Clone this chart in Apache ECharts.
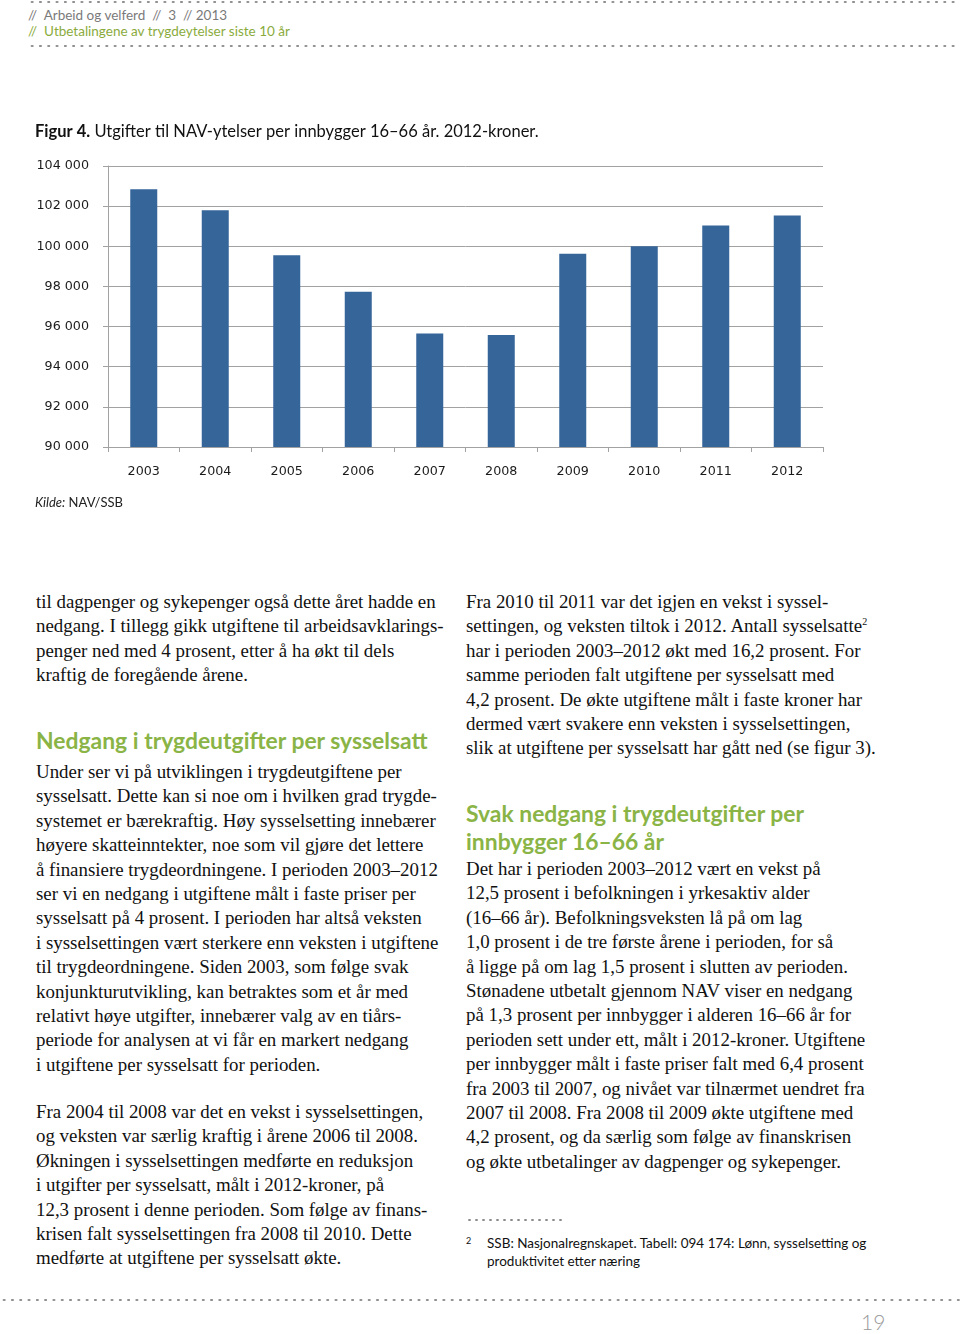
<!DOCTYPE html>
<html>
<head>
<meta charset="utf-8">
<script src="https://cdn.jsdelivr.net/npm/echarts@6/dist/echarts.min.js"></script>
<style>
  html, body { margin:0; padding:0; background:#fff; }
  body { width:960px; height:1334px; position:relative; overflow:hidden; }
  .abs { position:absolute; white-space:nowrap; }
  .dots { position:absolute; height:4px;
    background-image: radial-gradient(circle, #8e8e8e 1px, transparent 1.4px);
    background-size: 8.3px 4px; background-repeat: repeat-x; }
  .hdr { font-family:"Lato", "Noto Sans", sans-serif; font-size:13.5px; line-height:16px; }
  .body { font-family:"Liberation Serif", "Times New Roman", serif; font-size:18.9px; line-height:24.4px; color:#111; }
  .h2 { font-family:"Lato", "Noto Sans", sans-serif; font-weight:bold; font-size:22.9px; color:#8ab446; line-height:28px; }
  sup { font-size:10px; line-height:0; vertical-align: 7px; }
  .fn { font-family:"Lato", "Noto Sans", sans-serif; font-size:13.5px; line-height:18px; color:#111; }
</style>
</head>
<body>
<div class="dots" style="left:28px; top:0px; width:932px;"></div>
<div class="abs hdr" style="left:28px; top:7px; color:#7a7a7a;">//&nbsp; Arbeid og velferd &nbsp;//&nbsp; 3 &nbsp;// 2013</div>
<div class="abs hdr" style="left:28px; top:23px; color:#8aab3c;">//&nbsp; Utbetalingene av trygdeytelser siste 10 år</div>
<div class="dots" style="left:28px; top:44px; width:932px;"></div>

<div id="chart" style="position:absolute; left:0; top:100px; width:960px; height:430px;"></div>

<div class="abs body" style="left:36px; top:590px;">til dagpenger og sykepenger også dette året hadde en<br>nedgang. I tillegg gikk utgiftene til arbeidsavklarings-<br>penger ned med 4 prosent, etter å ha økt til dels<br>kraftig de foregående årene.</div>

<div class="abs h2" style="left:36px; top:726px;">Nedgang i trygdeutgifter per sysselsatt</div>

<div class="abs body" style="left:36px; top:760px;">Under ser vi på utviklingen i trygdeutgiftene per<br>sysselsatt. Dette kan si noe om i hvilken grad trygde-<br>systemet er bærekraftig. Høy sysselsetting innebærer<br>høyere skatteinntekter, noe som vil gjøre det lettere<br>å finansiere trygdeordningene. I perioden 2003–2012<br>ser vi en nedgang i utgiftene målt i faste priser per<br>sysselsatt på 4 prosent. I perioden har altså veksten<br>i sysselsettingen vært sterkere enn veksten i utgiftene<br>til trygdeordningene. Siden 2003, som følge svak<br>konjunkturutvikling, kan betraktes som et år med<br>relativt høye utgifter, innebærer valg av en tiårs-<br>periode for analysen at vi får en markert nedgang<br>i utgiftene per sysselsatt for perioden.</div>

<div class="abs body" style="left:36px; top:1100px;">Fra 2004 til 2008 var det en vekst i sysselsettingen,<br>og veksten var særlig kraftig i årene 2006 til 2008.<br>Økningen i sysselsettingen medførte en reduksjon<br>i utgifter per sysselsatt, målt i 2012-kroner, på<br>12,3 prosent i denne perioden. Som følge av finans-<br>krisen falt sysselsettingen fra 2008 til 2010. Dette<br>medførte at utgiftene per sysselsatt økte.</div>

<div class="abs body" style="left:466px; top:590px;">Fra 2010 til 2011 var det igjen en vekst i syssel-<br>settingen, og veksten tiltok i 2012. Antall sysselsatte<sup>2</sup><br>har i perioden 2003–2012 økt med 16,2 prosent. For<br>samme perioden falt utgiftene per sysselsatt med<br>4,2 prosent. De økte utgiftene målt i faste kroner har<br>dermed vært svakere enn veksten i sysselsettingen,<br>slik at utgiftene per sysselsatt har gått ned (se figur 3).</div>

<div class="abs h2" style="left:466px; top:799px;">Svak nedgang i trygdeutgifter per<br>innbygger 16–66 år</div>

<div class="abs body" style="left:466px; top:857px;">Det har i perioden 2003–2012 vært en vekst på<br>12,5 prosent i befolkningen i yrkesaktiv alder<br>(16–66 år). Befolkningsveksten lå på om lag<br>1,0 prosent i de tre første årene i perioden, for så<br>å ligge på om lag 1,5 prosent i slutten av perioden.<br>Stønadene utbetalt gjennom NAV viser en nedgang<br>på 1,3 prosent per innbygger i alderen 16–66 år for<br>perioden sett under ett, målt i 2012-kroner. Utgiftene<br>per innbygger målt i faste priser falt med 6,4 prosent<br>fra 2003 til 2007, og nivået var tilnærmet uendret fra<br>2007 til 2008. Fra 2008 til 2009 økte utgiftene med<br>4,2 prosent, og da særlig som følge av finanskrisen<br>og økte utbetalinger av dagpenger og sykepenger.</div>

<div class="dots" style="left:466px; top:1218px; width:100px; background-size:7px 4px; background-image: radial-gradient(circle, #8a8a8a 1px, transparent 1.4px);"></div>
<div class="abs fn" style="left:466px; top:1232px; font-size:9px;">2</div>
<div class="abs fn" style="left:487px; top:1234px;">SSB: Nasjonalregnskapet. Tabell: 094 174: Lønn, sysselsetting og<br>produktivitet etter næring</div>

<div class="dots" style="left:0px; top:1298px; width:960px;"></div>
<div class="abs" style="left:861px; top:1309px; font-family:'Lato','Noto Sans',sans-serif; font-size:21px; color:#9a9a9a; font-weight:300;">19</div>

<script>
const years = ['2003','2004','2005','2006','2007','2008','2009','2010','2011','2012'];
const values = [102840, 101790, 99550, 97740, 95660, 95580, 99630, 100000, 101030, 101540];
const yTicks = { min: 90000, max: 104000, interval: 2000 };
const titleBold = 'Figur 4.';
const titleRest = ' Utgifter til NAV-ytelser per innbygger 16–66 år. 2012-kroner.';
const sourceLabel = 'Kilde:';
const sourceText = ' NAV/SSB';

const chart = echarts.init(document.getElementById('chart'), null, { renderer: 'canvas' });
const gray = '#a2a2a2';
chart.setOption({
  animation: false,
  title: {
    text: '{b|' + titleBold + '}{r|' + titleRest + '}',
    left: 35, top: 23, padding: 0,
    textStyle: {
      fontWeight: 'normal',
      rich: {
        b: { fontFamily: 'Lato, "Noto Sans", sans-serif', fontWeight: 'bold', fontSize: 16.5, color: '#111' },
        r: { fontFamily: 'Lato, "Noto Sans", sans-serif', fontWeight: 'normal', fontSize: 16.5, color: '#111' }
      }
    }
  },
  graphic: [{
    type: 'text', left: 35, top: 396,
    style: {
      text: '{i|' + sourceLabel + '}{n|' + sourceText + '}',
      rich: {
        i: { fontFamily: 'Lato, "Noto Sans", sans-serif', fontStyle: 'italic', fontSize: 13, fill: '#222' },
        n: { fontFamily: 'Lato, "Noto Sans", sans-serif', fontSize: 13, fill: '#222' }
      }
    }
  }],
  grid: { left: 108, right: 137, top: 66, bottom: 83, containLabel: false },
  xAxis: {
    type: 'category', data: years, boundaryGap: true,
    axisLine: { lineStyle: { color: gray, width: 1 } },
    axisTick: { show: true, alignWithLabel: false, length: 5, lineStyle: { color: gray } },
    axisLabel: { margin: 18, fontFamily: '"DejaVu Sans", Verdana, sans-serif', fontSize: 12.7, color: '#1a1a1a' }
  },
  yAxis: {
    type: 'value', min: yTicks.min, max: yTicks.max, interval: yTicks.interval,
    axisLine: { show: true, lineStyle: { color: gray, width: 1 } },
    axisTick: { show: true, length: 5, lineStyle: { color: gray } },
    splitLine: { show: true, lineStyle: { color: gray, width: 1 } },
    axisLabel: {
      margin: 19, fontFamily: '"DejaVu Sans", Verdana, sans-serif', fontSize: 12.7, color: '#1a1a1a',
      formatter: v => String(v).replace(/\B(?=(\d{3})+(?!\d))/g, ' ')
    }
  },
  series: [{
    type: 'bar', data: values, barWidth: 27,
    itemStyle: { color: '#36659a' }
  }]
});
</script>
</body>
</html>
